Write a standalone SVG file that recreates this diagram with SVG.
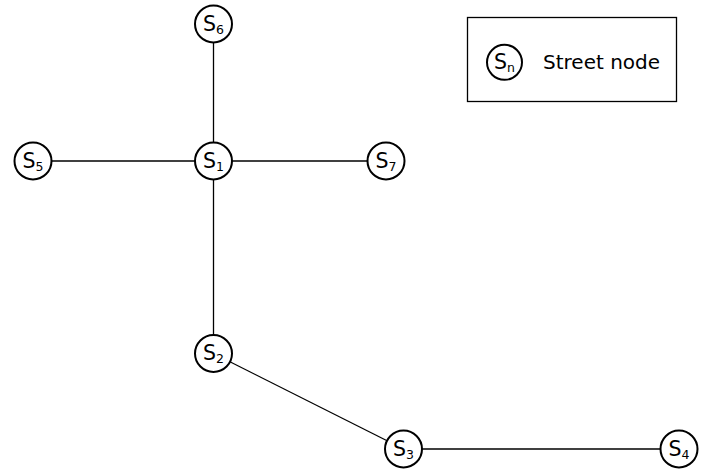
<svg xmlns="http://www.w3.org/2000/svg" width="713" height="474" viewBox="0 0 713 474">
  <style>
    .node circle { fill: #fff; stroke: #000; stroke-width: 2; }
    .node text, .legend text { font-family: "DejaVu Sans", sans-serif; font-size: 20.5px; fill: #000; }
    .legend text.label { font-size: 20px; }
    .node text { text-anchor: middle; }
    .sub { font-size: 12.5px; }
    .edge { stroke: #000; stroke-width: 1.3; fill: none; }
  </style>
  <rect width="713" height="474" fill="#fff"/>

  <g id="connectors">
    <line class="edge" x1="213.5" y1="24" x2="213.5" y2="161"/>
    <line class="edge" x1="33" y1="161" x2="386" y2="161"/>
    <line class="edge" x1="213.5" y1="161" x2="213.5" y2="353.5"/>
    <line class="edge" x1="213.5" y1="353.5" x2="403.5" y2="449"/>
    <line class="edge" x1="403.5" y1="449" x2="679" y2="449"/>
  </g>

  <g id="S6" class="node">
    <circle cx="213.5" cy="24" r="18.5"/>
    <text x="213.5" y="30.7">S<tspan class="sub" dy="3">6</tspan></text>
  </g>
  <g id="S1" class="node">
    <circle cx="213.5" cy="161" r="18.5"/>
    <text x="213.5" y="167.7">S<tspan class="sub" dy="3">1</tspan></text>
  </g>
  <g id="S5" class="node">
    <circle cx="33" cy="161" r="18.5"/>
    <text x="33" y="167.7">S<tspan class="sub" dy="3">5</tspan></text>
  </g>
  <g id="S7" class="node">
    <circle cx="386" cy="161" r="18.5"/>
    <text x="386" y="167.7">S<tspan class="sub" dy="3">7</tspan></text>
  </g>
  <g id="S2" class="node">
    <circle cx="213.5" cy="353.5" r="18.5"/>
    <text x="213.5" y="360.2">S<tspan class="sub" dy="3">2</tspan></text>
  </g>
  <g id="S3" class="node">
    <circle cx="403.5" cy="449" r="18.5"/>
    <text x="403.5" y="455.7">S<tspan class="sub" dy="3">3</tspan></text>
  </g>
  <g id="S4" class="node">
    <circle cx="679" cy="449" r="18.5"/>
    <text x="679" y="455.7">S<tspan class="sub" dy="3">4</tspan></text>
  </g>

  <g id="legend" class="legend">
    <rect x="467.5" y="17.5" width="209" height="84" fill="#fff" stroke="#000" stroke-width="1.3"/>
    <g class="node">
      <circle cx="504.5" cy="62.3" r="17.5" stroke-width="1.6"/>
      <text x="504.5" y="68.5">S<tspan class="sub" dy="3">n</tspan></text>
    </g>
    <text class="label" x="543" y="68.5">Street node</text>
  </g>
</svg>
